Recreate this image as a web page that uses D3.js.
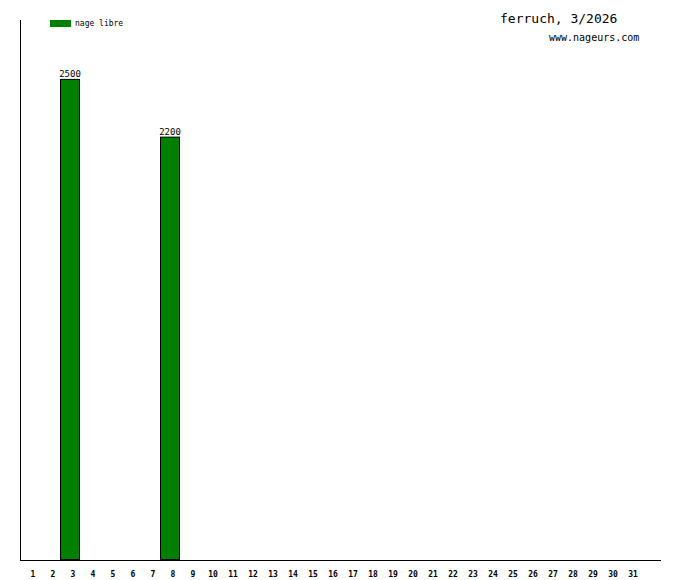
<!DOCTYPE html>
<html><head><meta charset="utf-8">
<script src="https://cdn.jsdelivr.net/npm/d3@7"></script>
<style>body{margin:0;background:#fff}svg{display:block}</style>
</head><body>
<script>
const days = d3.range(1, 32);
const seriesName = "nage libre";
const values = [0,0,2500,0,0,0,0,2200,0,0,0,0,0,0,0,0,0,0,0,0,0,0,0,0,0,0,0,0,0,0,0];
const title = "ferruch, 3/2026";
const subtitle = "www.nageurs.com";

const W = 680, H = 580;
const svg = d3.select("body").append("svg").attr("width", W).attr("height", H);
const font = "DejaVu Sans Mono, monospace";

const x = d3.scaleBand().domain(d3.range(1, 33)).range([20, 660]).padding(0);
const y = d3.scaleLinear().domain([0, 2806]).range([560, 20]);

const data = days.map((d, i) => ({day: d, v: values[i]}));

svg.selectAll("rect.bar").data(data.filter(d => d.v > 0)).join("rect")
  .attr("class", "bar")
  .attr("x", d => x(d.day) + 0.5)
  .attr("y", d => y(d.v) + 0.5)
  .attr("width", x.bandwidth() - 1)
  .attr("height", d => y(0) - y(d.v) - 1)
  .attr("fill", "#008000").attr("stroke", "#000").attr("stroke-width", 1);

svg.selectAll("text.val").data(data.filter(d => d.v > 0)).join("text")
  .attr("x", d => x(d.day) + x.bandwidth() / 2)
  .attr("y", d => y(d.v) - 2)
  .attr("text-anchor", "middle")
  .attr("font-family", font).attr("font-size", 9)
  .text(d => d.v);

// axes
svg.append("line").attr("x1", 20.5).attr("x2", 20.5).attr("y1", 20).attr("y2", 560).attr("stroke", "#000");
svg.append("line").attr("x1", 20).attr("x2", 661).attr("y1", 560.5).attr("y2", 560.5).attr("stroke", "#000");

svg.selectAll("text.tick").data(days).join("text")
  .attr("x", d => x(d) + x.bandwidth() / 2 + 3)
  .attr("y", 577)
  .attr("text-anchor", "middle")
  .attr("font-family", font).attr("font-size", 8).attr("font-weight", "bold")
  .text(d => d);

// legend
svg.append("rect").attr("x", 50).attr("y", 20).attr("width", 21).attr("height", 7).attr("fill", "#008000");
svg.append("text").attr("x", 75).attr("y", 26).attr("font-family", font).attr("font-size", 8).text(seriesName);

svg.append("text").attr("x", 500).attr("y", 23).attr("font-family", font).attr("font-size", 13).text(title);
svg.append("text").attr("x", 549).attr("y", 41).attr("font-family", font).attr("font-size", 10).text(subtitle);
</script>
</body></html>
